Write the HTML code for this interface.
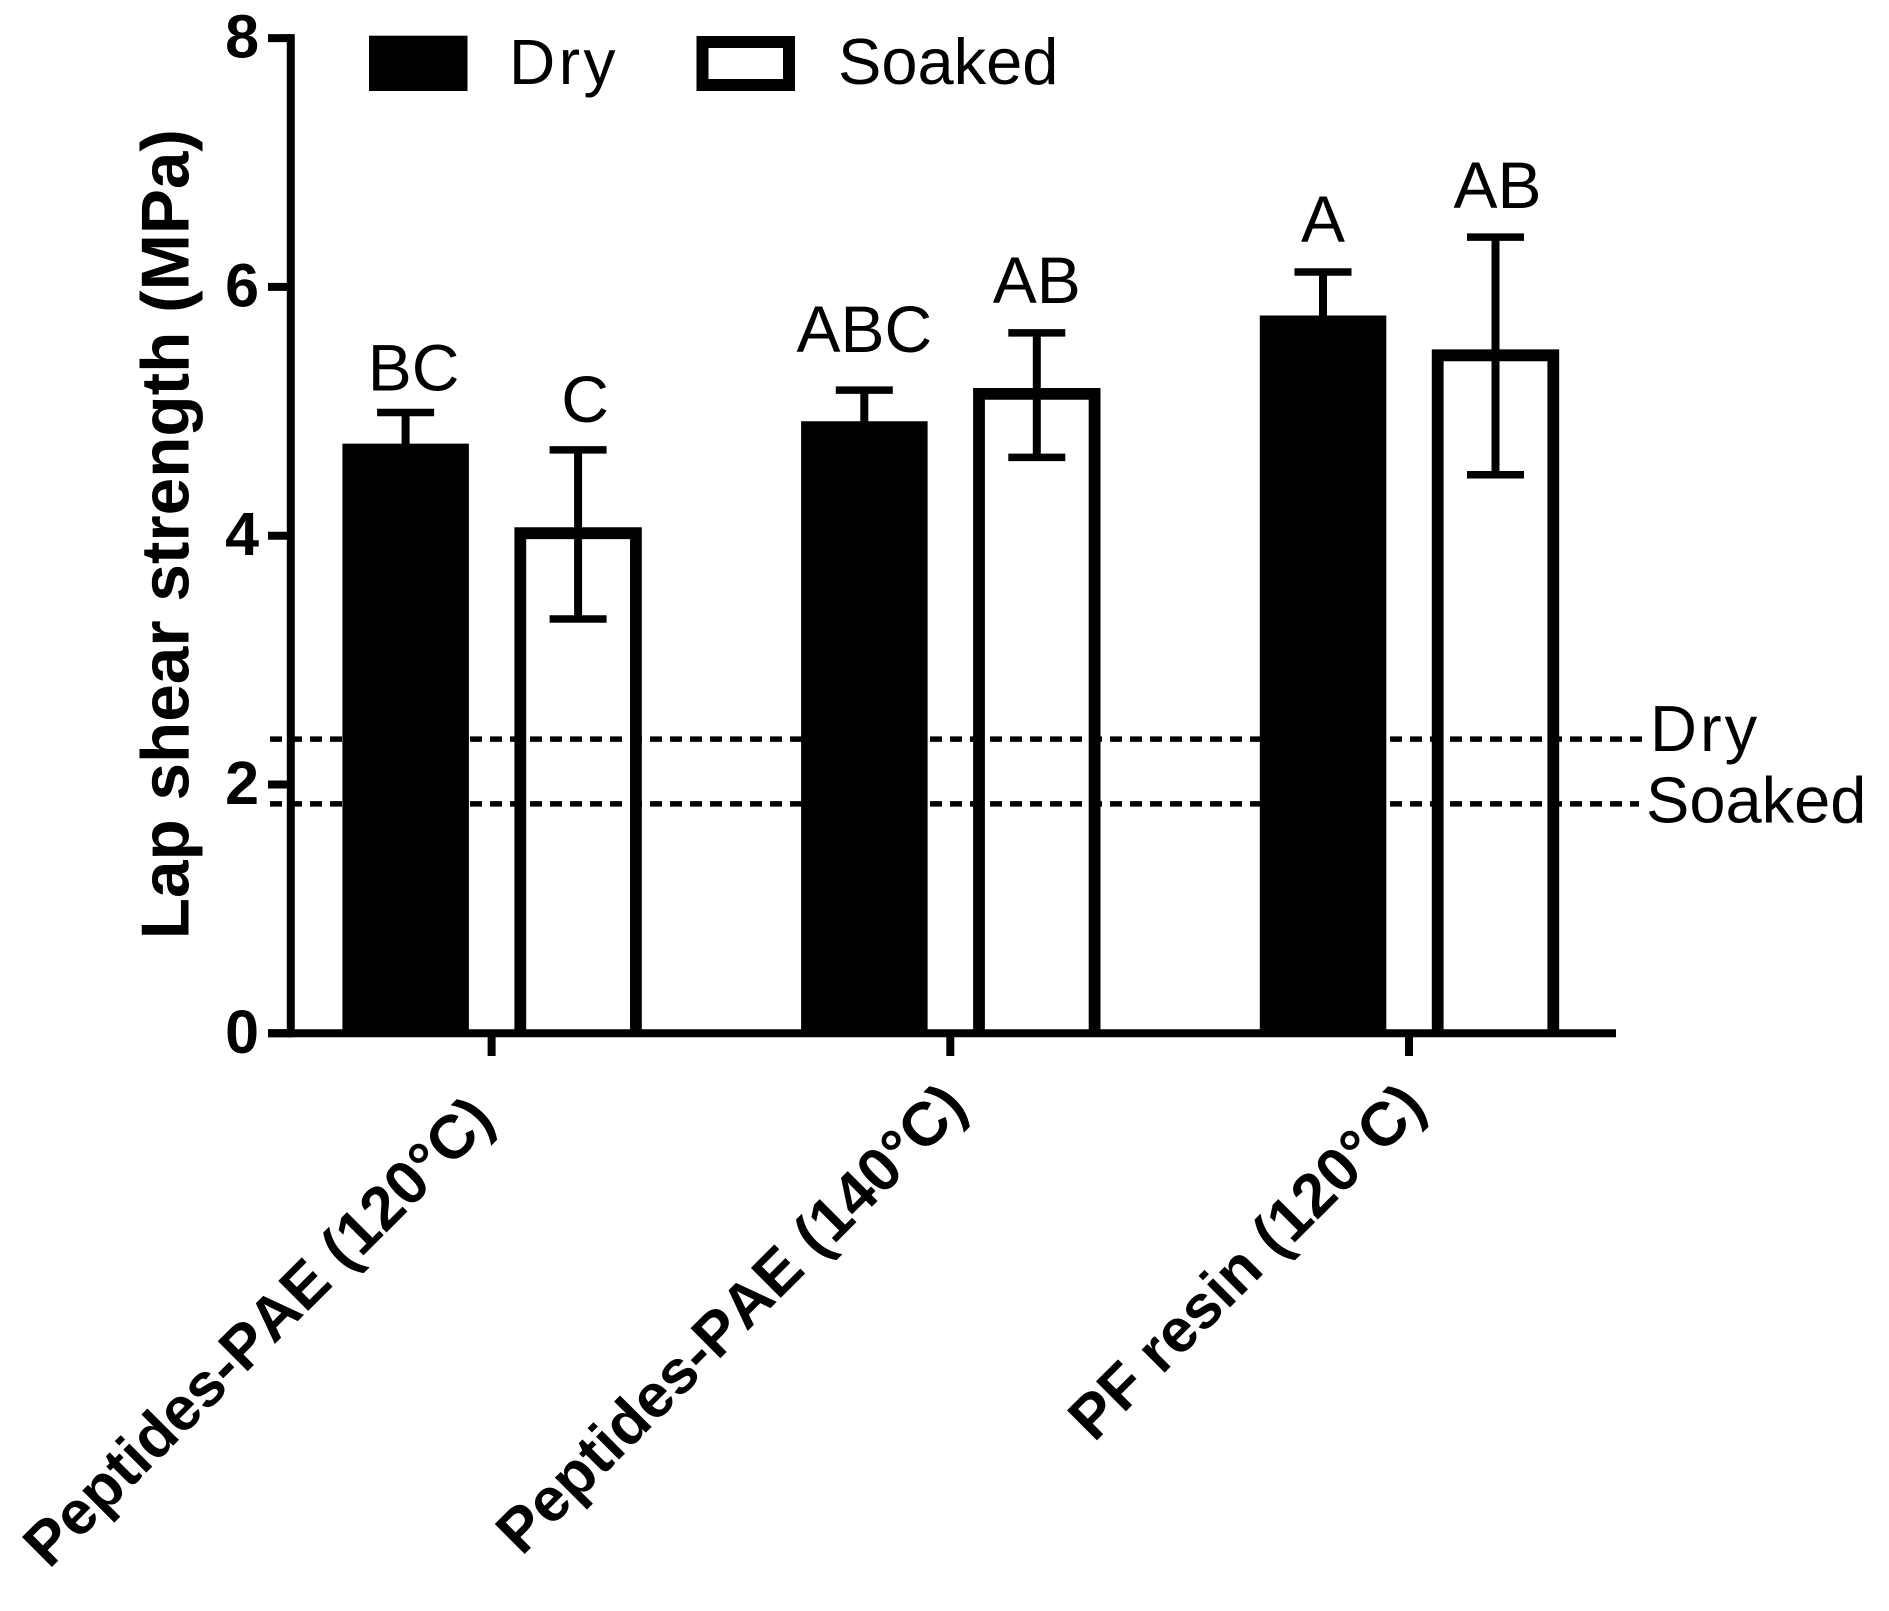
<!DOCTYPE html>
<html lang="en">
<head>
<meta charset="utf-8">
<title>Lap shear strength</title>
<style>
  html, body { margin: 0; padding: 0; background: #fff; }
  svg { display: block; }
  text { font-family: "Liberation Sans", Arial, sans-serif; fill: #000; font-kerning: none; }
</style>
</head>
<body>
<svg id="chart" xmlns="http://www.w3.org/2000/svg" width="1889" height="1611" viewBox="0 0 1889 1611">
  <rect x="0" y="0" width="1889" height="1611" fill="#fff"/>
  <text transform="translate(188.5 534.2) rotate(-90)" text-anchor="middle" font-size="67.5" font-weight="700">Lap shear strength (MPa)</text>
  <g>
    <rect x="369" y="35.7" width="98.5" height="55.3" fill="#000"/>
    <text x="509" y="84" font-size="64" letter-spacing="3.5">Dry</text>
    <rect x="702.5" y="42" width="86.5" height="43" fill="#fff" stroke="#000" stroke-width="12"/>
    <text x="838" y="84" font-size="65">Soaked</text>
  </g>
  <g id="refs"></g>
  <g id="bars"></g>
  <g id="errs"></g>
  <g id="axes"></g>
  <g id="letters"></g>
</svg>
<script>
const categories = ["Peptides-PAE (120°C)", "Peptides-PAE (140°C)", "PF resin (120°C)"];
const dryValues = [4.74, 4.92, 5.77];
const soakedValues = [4.02, 5.14, 5.45];
const dryErrHigh = [4.99, 5.17, 6.12];
const dryErrLow = [4.49, 4.67, 5.42];
const soakedErrHigh = [4.69, 5.63, 6.40];
const soakedErrLow = [3.33, 4.63, 4.49];
const dryLetters = ["BC", "ABC", "A"];
const soakedLetters = ["C", "AB", "AB"];
const yTicks = [0, 2, 4, 6, 8];
const dryReference = 2.365;
const soakedReference = 1.844;

const NS = "http://www.w3.org/2000/svg";
const y = v => 1033.3 - 124.4 * v;
const xTick = i => 491.6 + 458.7 * i;
const dryCenter = i => xTick(i) - 86;
const soakedCenter = i => xTick(i) + 86.5;

function mk(parent, tag, attrs, txt) {
  const el = document.createElementNS(NS, tag);
  for (const k in attrs) el.setAttribute(k, attrs[k]);
  if (txt !== undefined) el.textContent = txt;
  parent.appendChild(el);
  return el;
}
const gRefs = document.getElementById("refs");
const gBars = document.getElementById("bars");
const gErrs = document.getElementById("errs");
const gAxes = document.getElementById("axes");
const gLetters = document.getElementById("letters");

/* reference lines */
const dryRefLine = mk(gRefs, "line", {x1: 270, x2: 1642.7, y1: y(dryReference), y2: y(dryReference), stroke: "#000", "stroke-width": 5.5, "stroke-dasharray": "12 8"});


const soakedRefLine = mk(gRefs, "line", {x1: 270, x2: 1639, y1: y(soakedReference), y2: y(soakedReference), stroke: "#000", "stroke-width": 5.5, "stroke-dasharray": "12 8"});


const dryRefLabel = mk(gRefs, "text", {x: 1650, y: y(dryReference) + 12, "font-size": 65, "letter-spacing": 3}, "Dry");


const soakedRefLabel = mk(gRefs, "text", {x: 1646, y: y(soakedReference) + 18.5, "font-size": 65}, "Soaked");



/* error bar drawing */
function errorBar(cx, hi, lo, showLow) {
  const parts = [];
  parts.push(mk(gErrs, "line", {x1: cx, x2: cx, y1: y(hi), y2: y(lo), stroke: "#000", "stroke-width": 8}));
  parts.push(mk(gErrs, "line", {x1: cx - 28.5, x2: cx + 28.5, y1: y(hi), y2: y(hi), stroke: "#000", "stroke-width": 7.5}));
  if (showLow) parts.push(mk(gErrs, "line", {x1: cx - 28.5, x2: cx + 28.5, y1: y(lo), y2: y(lo), stroke: "#000", "stroke-width": 7.5}));
  return parts;
}

/* bars, errors, letters */
const letterNudgeDry = i => i === 0 ? {dx: 8, dy: 22} : i === 1 ? {dx: 0, dy: 38} : {dx: 0, dy: 30};
const letterNudgeSoaked = i => i === 0 ? {dx: 7, dy: 28} : i === 1 ? {dx: 0, dy: 30} : {dx: 2, dy: 29};

categories.forEach((cat, i) => {
  const dc = dryCenter(i);
  const sc = soakedCenter(i);

  const dryBar = mk(gBars, "rect", {x: dc - 63.2, y: y(dryValues[i]), width: 126.5, height: y(0) - y(dryValues[i]), fill: "#000"});
  
  

  const sl = sc - 57.8;
  const sr = sc + 57.8;
  const soakedBar = mk(gBars, "path", {d: "M" + sl + " " + y(0) + " V" + y(soakedValues[i]) + " H" + sr + " V" + y(0), fill: "none", stroke: "#000", "stroke-width": 11.8, "stroke-linejoin": "miter"});
  
  

  errorBar(dc, dryErrHigh[i], dryErrLow[i], false).forEach(p => {
    
    
  });
  errorBar(sc, soakedErrHigh[i], soakedErrLow[i], true).forEach(p => {
    
    
  });

  const nd = letterNudgeDry(i);
  const dryLetter = mk(gLetters, "text", {x: dc + nd.dx, y: y(dryErrHigh[i]) - nd.dy, "text-anchor": "middle", "font-size": 66}, dryLetters[i]);
  
  

  const ns = letterNudgeSoaked(i);
  const soakedLetter = mk(gLetters, "text", {x: sc + ns.dx, y: y(soakedErrHigh[i]) - ns.dy, "text-anchor": "middle", "font-size": 66}, soakedLetters[i]);
  
  

  const xt = mk(gAxes, "line", {x1: xTick(i), x2: xTick(i), y1: y(0), y2: 1056, stroke: "#000", "stroke-width": 8});
  
  

  const off = i === 0 ? {dx: 5, dy: 89} : {dx: 19, dy: 76};
  const lx = xTick(i) + off.dx;
  const ly = y(0) + off.dy;
  const xl = mk(gAxes, "text", {x: lx, y: ly, transform: "rotate(-45 " + lx + " " + ly + ")", "text-anchor": "end", "font-size": 61.5, "font-weight": 700}, cat);
  
  
});

/* axes */
const ySpine = mk(gAxes, "line", {x1: 290.8, x2: 290.8, y1: y(8) - 4, y2: y(0) + 4, stroke: "#000", "stroke-width": 8});


const xSpine = mk(gAxes, "line", {x1: 268, x2: 1616, y1: y(0), y2: y(0), stroke: "#000", "stroke-width": 8});



yTicks.forEach(t => {
  const tk = mk(gAxes, "line", {x1: 268, x2: 291, y1: y(t), y2: y(t), stroke: "#000", "stroke-width": 8});
  
  
  const lb = mk(gAxes, "text", {x: 259, y: y(t) + 19.5, "text-anchor": "end", "font-size": 61, "font-weight": 700}, String(t));
  
  
});
</script>
</body>
</html>
